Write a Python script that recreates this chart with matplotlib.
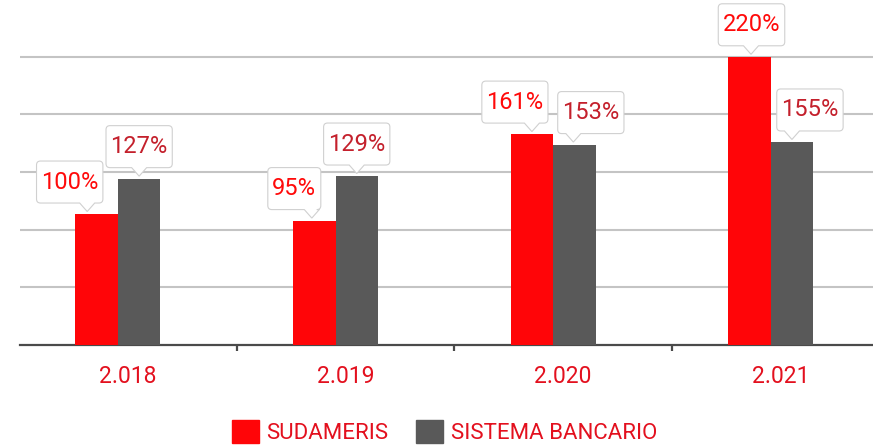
import numpy as np
import matplotlib.pyplot as plt
from matplotlib.patches import Patch
from matplotlib.path import Path

# datos
years = ["2.018", "2.019", "2.020", "2.021"]
sudameris = [100, 95, 161, 220]
sistema = [127, 129, 153, 155]
series_names = ["SUDAMERIS", "SISTEMA BANCARIO"]

# desplazamiento horizontal (px) del globo y de su pico respecto a la barra
box_shift_sud = [-27, -20, -17, 2]
tip_shift_sud = [-9.5, -2.5, 0, 1.5]
box_shift_sis = [0, 0, 16.5, 18]
tip_shift_sis = [0, 0, -1, 0]

RED = "#ff0508"
GRAY = "#595959"
LABEL_RED = "#ff0a0a"
LABEL_DARK = "#c4202c"
TEXT_RED = "#e3101e"
DPI = 100

plt.rcParams['font.family'] = ['Roboto', 'DejaVu Sans']

fig = plt.figure(figsize=(8.73, 4.48), dpi=DPI)
ax = fig.add_axes([20 / 873, 103 / 448, 853 / 873, 345 / 448])

x = np.arange(len(years))
w = 0.195
ax.bar(x - w / 2, sudameris, w, color=RED, zorder=3)
ax.bar(x + w / 2, sistema, w, color=GRAY, zorder=3)

# rejilla
ax.set_yticks(np.arange(44, 221, 44))
ax.yaxis.grid(True, color="#c4c4c4", linewidth=1.5, zorder=0)
ax.tick_params(axis='y', length=0, labelleft=False)

for s in ["top", "right", "left"]:
    ax.spines[s].set_visible(False)
ax.spines["bottom"].set_color("#4a4a4a")
ax.spines["bottom"].set_linewidth(1.6)

# marcas entre categorias
edges = np.arange(len(years) + 1) - 0.455
ax.set_xticks(edges)
ax.set_xticklabels([])
ax.tick_params(axis='x', direction='out', length=4.5, width=1.6, color="#4a4a4a")
for i, y in enumerate(years):
    ax.annotate(y, xy=(edges[i] + 0.5, 0), xytext=(0, -23), textcoords='offset points',
                ha='center', va='center', fontsize=16.5, color=TEXT_RED,
                annotation_clip=False)

ax.set_xlim(-0.45, 3.47)
ax.set_ylim(0, 263.3)


# globo con pico (en pixeles)
def balloon(notch_dx, padx=4.5, box_h=42, rad=4, half=7.5, depth=8.5):
    def style(x0, y0, width, height, mutation_size):
        cx = x0 + width / 2
        cy = y0 + height / 2
        l, r = cx - width / 2 - padx, cx + width / 2 + padx
        b, t = cy - box_h / 2, cy + box_h / 2
        nx = cx + notch_dx
        verts = [(l + rad, b), (nx - half, b), (nx, b - depth), (nx + half, b),
                 (r - rad, b), (r, b), (r, b + rad), (r, t - rad), (r, t),
                 (r - rad, t), (l + rad, t), (l, t), (l, t - rad), (l, b + rad),
                 (l, b), (l + rad, b), (l + rad, b)]
        codes = [Path.MOVETO, Path.LINETO, Path.LINETO, Path.LINETO,
                 Path.LINETO, Path.CURVE3, Path.CURVE3, Path.LINETO, Path.CURVE3,
                 Path.CURVE3, Path.LINETO, Path.CURVE3, Path.CURVE3, Path.LINETO,
                 Path.CURVE3, Path.CURVE3, Path.CLOSEPOLY]
        return Path(verts, codes)
    return style


def callout(xpos, val, color, box_dx, tip_dx):
    ax.annotate(f"{val}%", xy=(xpos, val), xytext=(box_dx * 72 / DPI, 23),
                textcoords='offset points', ha='center', va='center',
                fontsize=17, color=color, zorder=6, annotation_clip=False,
                bbox=dict(boxstyle=balloon(tip_dx - box_dx),
                          fc='white', ec="#d0d0d0", lw=0.8))


for i in range(len(years)):
    callout(x[i] - w / 2, sudameris[i], LABEL_RED, box_shift_sud[i], tip_shift_sud[i])
    callout(x[i] + w / 2, sistema[i], LABEL_DARK, box_shift_sis[i], tip_shift_sis[i])

handles = [Patch(color=RED), Patch(color=GRAY)]
leg = fig.legend(handles, series_names, loc='center', ncol=2,
                 bbox_to_anchor=(444.5 / 873, 0.035), frameon=False,
                 fontsize=16, handlelength=1.2, handleheight=1.2,
                 handletextpad=0.35, columnspacing=1.25)
for t in leg.get_texts():
    t.set_color(TEXT_RED)

fig.savefig("out.png", dpi=DPI)
